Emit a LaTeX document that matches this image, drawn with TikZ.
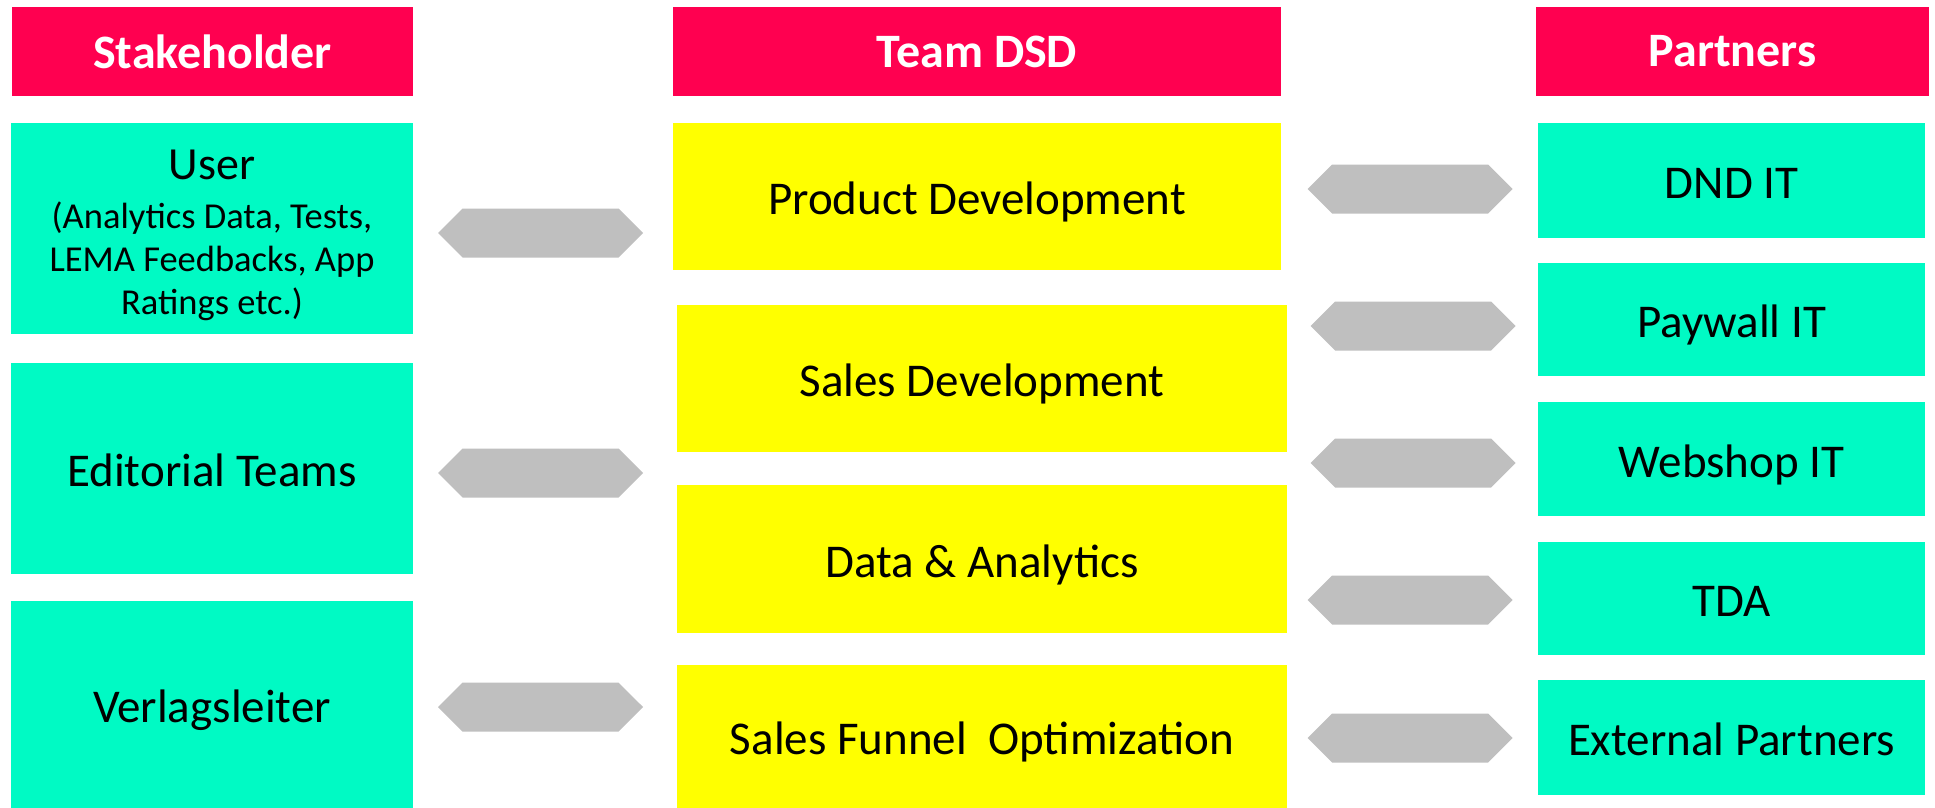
\documentclass[tikz,border=0pt]{standalone}
\usepackage{fontspec}
\setmainfont{Carlito}
\usetikzlibrary{shapes.symbols}
\definecolor{hdred}{RGB}{255,0,80}
\definecolor{teal2}{RGB}{0,250,196}
\definecolor{yel}{RGB}{255,255,0}
\definecolor{arrgray}{RGB}{191,191,191}
\tikzset{
  x=1pt, y=-1pt,
  header/.style={fill=hdred, text=white, inner sep=0pt, font=\fontsize{48}{56}\selectfont\bfseries},
  tealbox/.style={fill=teal2, text=black, inner sep=0pt, align=center, font=\fontsize{47}{56}\selectfont},
  yelbox/.style={fill=yel, text=black, inner sep=0pt, align=center, font=\fontsize{47}{56}\selectfont},
  oneline/.style={text height=36pt, text depth=0pt},
  dblarrow/.style={signal, signal to=west and east, signal pointer angle=90, fill=arrgray, draw=none, inner sep=0pt, minimum width=205pt, minimum height=49pt}
}
\begin{document}
\begin{tikzpicture}
\useasboundingbox (0,0) rectangle (1935,808);
% headers
\node[header, minimum width=401pt, minimum height=89pt] (hs) at (212.5,51.5) {Stakeholder};
\node[header, minimum width=608pt, minimum height=89pt] (ht) at (977,51.5) {Team DSD};
\node[header, minimum width=393pt, minimum height=89pt] (hp) at (1732.5,51.5) {Partners};
% stakeholders
\node[tealbox, minimum width=402pt, minimum height=211pt] (user) at (212,228.5) {};
\node[align=center, inner sep=0pt, font=\fontsize{36.5}{43}\selectfont] (usertext) at (212,235.5) {{\fontsize{46}{46}\selectfont User}\\[6pt](Analytics Data, Tests,\\LEMA Feedbacks, App\\Ratings etc.)};
\node[tealbox, oneline, minimum width=402pt, minimum height=211pt] (edit) at (212,468.5) {Editorial Teams};
\node[tealbox, oneline, minimum width=402pt, minimum height=207pt] (verl) at (212,704.5) {Verlagsleiter};
% team
\node[yelbox, oneline, minimum width=608pt, minimum height=147pt] (prod) at (977,196.5) {Product Development};
\node[yelbox, oneline, minimum width=610pt, minimum height=147pt] (sales) at (982,378.5) {Sales Development};
\node[yelbox, oneline, minimum width=610pt, minimum height=148pt] (data) at (982,559) {Data \& Analytics};
\node[yelbox, oneline, minimum width=610pt, minimum height=143pt] (sfo) at (982,736.5) {Sales Funnel\ \ Optimization};
% partners
\node[tealbox, oneline, minimum width=387pt, minimum height=115pt] (dnd) at (1731.5,180.5) {DND IT};
\node[tealbox, oneline, minimum width=387pt, minimum height=113pt] (pay) at (1731.5,319.5) {Paywall IT};
\node[tealbox, oneline, minimum width=387pt, minimum height=114pt] (web) at (1731.5,459) {Webshop IT};
\node[tealbox, oneline, minimum width=387pt, minimum height=113pt] (tda) at (1731.5,598.5) {TDA};
\node[tealbox, oneline, minimum width=387pt, minimum height=115pt] (ext) at (1731.5,737.5) {External Partners};
% arrows
\node[dblarrow] (a1) at (540.5,233) {};
\node[dblarrow] (a2) at (540.5,473) {};
\node[dblarrow] (a3) at (540.5,707) {};
\node[dblarrow] (b1) at (1410,189) {};
\node[dblarrow] (b2) at (1413,326) {};
\node[dblarrow] (b3) at (1413,463) {};
\node[dblarrow] (b4) at (1410,600) {};
\node[dblarrow] (b5) at (1410,738) {};
\end{tikzpicture}
\end{document}
